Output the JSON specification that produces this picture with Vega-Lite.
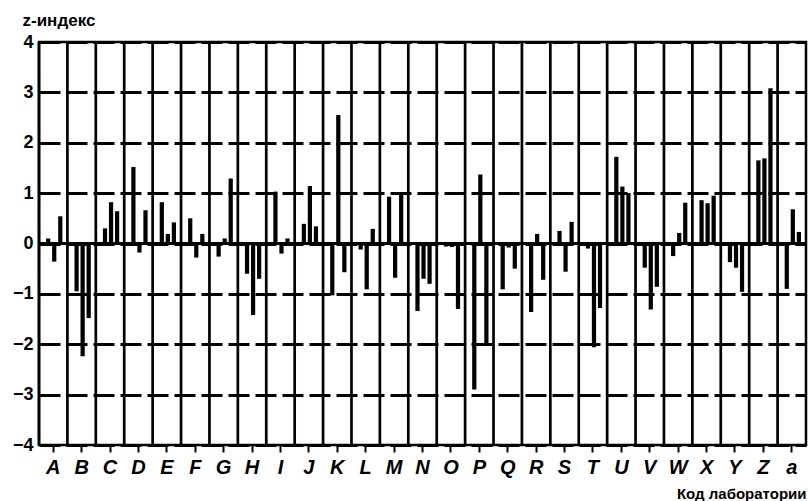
{
  "$schema": "https://vega.github.io/schema/vega-lite/v6.json",
  "autosize": {"type": "none"},
  "padding": {"left": 39, "top": 42, "right": 2, "bottom": 56},
  "width": 767,
  "height": 403,
  "background": "white",
  "config": {
    "view": {"stroke": "black", "strokeWidth": 2.5},
    "font": "Liberation Sans"
  },
  "datasets": {
    "labs": [
      {"lab": "A"}, {"lab": "B"}, {"lab": "C"}, {"lab": "D"}, {"lab": "E"}, {"lab": "F"}, {"lab": "G"},
      {"lab": "H"}, {"lab": "I"}, {"lab": "J"}, {"lab": "K"}, {"lab": "L"}, {"lab": "M"}, {"lab": "N"},
      {"lab": "O"}, {"lab": "P"}, {"lab": "Q"}, {"lab": "R"}, {"lab": "S"}, {"lab": "T"}, {"lab": "U"},
      {"lab": "V"}, {"lab": "W"}, {"lab": "X"}, {"lab": "Y"}, {"lab": "Z"}, {"lab": "a"}
    ],
    "scores": [
      {"lab": "A", "rep": 1, "z": 0.1}, {"lab": "A", "rep": 2, "z": -0.36}, {"lab": "A", "rep": 3, "z": 0.54},
      {"lab": "B", "rep": 1, "z": -0.95}, {"lab": "B", "rep": 2, "z": -2.24}, {"lab": "B", "rep": 3, "z": -1.48},
      {"lab": "C", "rep": 1, "z": 0.3}, {"lab": "C", "rep": 2, "z": 0.82}, {"lab": "C", "rep": 3, "z": 0.64},
      {"lab": "D", "rep": 1, "z": 1.52}, {"lab": "D", "rep": 2, "z": -0.18}, {"lab": "D", "rep": 3, "z": 0.66},
      {"lab": "E", "rep": 1, "z": 0.82}, {"lab": "E", "rep": 2, "z": 0.19}, {"lab": "E", "rep": 3, "z": 0.42},
      {"lab": "F", "rep": 1, "z": 0.5}, {"lab": "F", "rep": 2, "z": -0.28}, {"lab": "F", "rep": 3, "z": 0.19},
      {"lab": "G", "rep": 1, "z": -0.26}, {"lab": "G", "rep": 2, "z": 0.1}, {"lab": "G", "rep": 3, "z": 1.29},
      {"lab": "H", "rep": 1, "z": -0.6}, {"lab": "H", "rep": 2, "z": -1.42}, {"lab": "H", "rep": 3, "z": -0.7},
      {"lab": "I", "rep": 1, "z": 1.03}, {"lab": "I", "rep": 2, "z": -0.2}, {"lab": "I", "rep": 3, "z": 0.1},
      {"lab": "J", "rep": 1, "z": 0.39}, {"lab": "J", "rep": 2, "z": 1.14}, {"lab": "J", "rep": 3, "z": 0.34},
      {"lab": "K", "rep": 1, "z": -1.03}, {"lab": "K", "rep": 2, "z": 2.55}, {"lab": "K", "rep": 3, "z": -0.57},
      {"lab": "L", "rep": 1, "z": -0.12}, {"lab": "L", "rep": 2, "z": -0.91}, {"lab": "L", "rep": 3, "z": 0.29},
      {"lab": "M", "rep": 1, "z": 0.93}, {"lab": "M", "rep": 2, "z": -0.68}, {"lab": "M", "rep": 3, "z": 1.0},
      {"lab": "N", "rep": 1, "z": -1.34}, {"lab": "N", "rep": 2, "z": -0.7}, {"lab": "N", "rep": 3, "z": -0.8},
      {"lab": "O", "rep": 1, "z": -0.06}, {"lab": "O", "rep": 2, "z": -0.07}, {"lab": "O", "rep": 3, "z": -1.3},
      {"lab": "P", "rep": 1, "z": -2.9}, {"lab": "P", "rep": 2, "z": 1.37}, {"lab": "P", "rep": 3, "z": -2.0},
      {"lab": "Q", "rep": 1, "z": -0.91}, {"lab": "Q", "rep": 2, "z": -0.08}, {"lab": "Q", "rep": 3, "z": -0.5},
      {"lab": "R", "rep": 1, "z": -1.36}, {"lab": "R", "rep": 2, "z": 0.19}, {"lab": "R", "rep": 3, "z": -0.72},
      {"lab": "S", "rep": 1, "z": 0.25}, {"lab": "S", "rep": 2, "z": -0.56}, {"lab": "S", "rep": 3, "z": 0.43},
      {"lab": "T", "rep": 1, "z": -0.1}, {"lab": "T", "rep": 2, "z": -2.06}, {"lab": "T", "rep": 3, "z": -1.28},
      {"lab": "U", "rep": 1, "z": 1.72}, {"lab": "U", "rep": 2, "z": 1.13}, {"lab": "U", "rep": 3, "z": 1.0},
      {"lab": "V", "rep": 1, "z": -0.48}, {"lab": "V", "rep": 2, "z": -1.31}, {"lab": "V", "rep": 3, "z": -0.86},
      {"lab": "W", "rep": 1, "z": -0.25}, {"lab": "W", "rep": 2, "z": 0.21}, {"lab": "W", "rep": 3, "z": 0.81},
      {"lab": "X", "rep": 1, "z": 0.86}, {"lab": "X", "rep": 2, "z": 0.8}, {"lab": "X", "rep": 3, "z": 0.95},
      {"lab": "Y", "rep": 1, "z": -0.37}, {"lab": "Y", "rep": 2, "z": -0.48}, {"lab": "Y", "rep": 3, "z": -0.96},
      {"lab": "Z", "rep": 1, "z": 1.65}, {"lab": "Z", "rep": 2, "z": 1.69}, {"lab": "Z", "rep": 3, "z": 3.08},
      {"lab": "a", "rep": 1, "z": -0.9}, {"lab": "a", "rep": 2, "z": 0.68}, {"lab": "a", "rep": 3, "z": 0.23}
    ]
  },
  "layer": [
    {
      "data": {"name": "scores"},
      "mark": {"type": "bar", "color": "black"},
      "encoding": {
        "x": {
          "field": "lab", "type": "nominal", "sort": null,
          "scale": {"paddingInner": 0, "paddingOuter": 0},
          "axis": {
            "title": "Код лаборатории",
            "titleFontSize": 15, "titleFontWeight": "bold", "titleColor": "black",
            "titleAnchor": "end", "titleAlign": "right", "titleX": 767, "titleY": 53, "titleBaseline": "alphabetic",
            "labelAngle": 0, "labelFontSize": 20,
            "labelFontStyle": "italic", "labelFontWeight": "bold", "labelColor": "black", "labelPadding": 5,
            "tickColor": "black", "tickSize": 7, "tickWidth": 2, "domain": false, "grid": false
          }
        },
        "xOffset": {
          "field": "rep", "type": "nominal",
          "scale": {"paddingInner": 0.3, "paddingOuter": 1.165, "align": 0.585}
        },
        "y": {
          "field": "z", "type": "quantitative",
          "scale": {"domain": [-4, 4], "nice": false},
          "axis": {
            "title": "z-индекс", "titleAngle": 0, "titleAlign": "left", "titleBaseline": "alphabetic",
            "titleX": -17, "titleY": -17, "titleFontSize": 17, "titleFontWeight": "bold", "titleColor": "black",
            "values": [-4, -3, -2, -1, 0, 1, 2, 3, 4],
            "labelFontSize": 18, "labelFontWeight": "bold", "labelColor": "black", "labelPadding": 6,
            "ticks": false, "domain": false,
            "grid": true, "gridColor": "black", "gridWidth": 3, "gridDash": [21, 6], "gridOpacity": 1
          }
        }
      }
    },
    {
      "data": {"name": "labs"},
      "mark": {"type": "rule", "color": "black", "strokeWidth": 2.7},
      "encoding": {
        "x": {"field": "lab", "type": "nominal", "sort": null, "bandPosition": 0}
      }
    },
    {
      "data": {"name": "labs"},
      "mark": {"type": "rule", "color": "black", "strokeWidth": 2},
      "encoding": {"y": {"datum": 0}}
    }
  ]
}
